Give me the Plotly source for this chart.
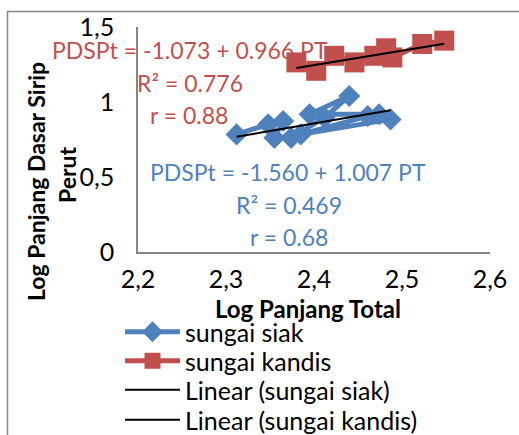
import plotly.graph_objects as go

# ---- data ----
siak_x = [2.312, 2.348, 2.365, 2.355, 2.374, 2.412, 2.440, 2.395, 2.474, 2.461, 2.385, 2.487]
siak_y = [0.784, 0.851, 0.873, 0.761, 0.761, 0.896, 1.040, 0.918, 0.918, 0.906, 0.784, 0.884]

kandis_x = [2.380, 2.4025, 2.423, 2.446, 2.4685, 2.482, 2.489, 2.523, 2.548]
kandis_y = [1.264, 1.208, 1.308, 1.264, 1.308, 1.358, 1.297, 1.387, 1.409]

siak_a, siak_b = -1.560, 1.007
kandis_a, kandis_b = -1.073, 0.966

siak_lines = ["PDSPt = -1.560 + 1.007 PT", "R² = 0.469", "r = 0.68"]
kandis_lines = ["PDSPt = -1.073 + 0.966 PT", "R² = 0.776", "r = 0.88"]

x_ticks = [2.2, 2.3, 2.4, 2.5, 2.6]
x_tick_text = ["2,2", "2,3", "2,4", "2,5", "2,6"]
y_ticks = [0, 0.5, 1, 1.5]
y_tick_text = ["0", "0,5", "1", "1,5"]

BLUE = "#4F81BD"
RED = "#C0504D"
GRAY = "#868686"
FONT = "Lato"

W, H = 519, 435
L, R, T, B = 138, 29, 27, 183
PW, PH = W - L - R, H - T - B


def px2paper_x(px):
    return (px - L) / PW


def px2paper_y(py):
    return (H - B - py) / PH


fig = go.Figure()

fig.add_trace(go.Scatter(
    x=siak_x, y=siak_y, mode="lines+markers", name="sungai siak",
    line=dict(color=BLUE, width=5),
    marker=dict(symbol="diamond", size=17, color=BLUE),
    cliponaxis=False, legend="legend",
))
fig.add_trace(go.Scatter(
    x=kandis_x, y=kandis_y, mode="lines+markers", name="sungai kandis",
    line=dict(color=RED, width=5),
    marker=dict(symbol="square", size=20, color=RED),
    cliponaxis=False, legend="legend2",
))

sx = [min(siak_x), max(siak_x)]
kx = [min(kandis_x), max(kandis_x)]
fig.add_trace(go.Scatter(
    x=sx, y=[siak_a + siak_b * v for v in sx], mode="lines",
    name="Linear (sungai siak)", line=dict(color="black", width=2),
    cliponaxis=False, legend="legend3",
))
fig.add_trace(go.Scatter(
    x=kx, y=[kandis_a + kandis_b * v for v in kx], mode="lines",
    name="Linear (sungai kandis)", line=dict(color="black", width=2),
    cliponaxis=False, legend="legend4",
))

annotations = []
# red equation block
for txt, cx, cy in zip(kandis_lines, [190, 190, 189], [50, 83, 115]):
    annotations.append(dict(text=txt, xref="paper", yref="paper",
                            x=px2paper_x(cx), y=px2paper_y(cy),
                            xanchor="center", yanchor="middle", showarrow=False,
                            font=dict(family=FONT, size=23, color=RED)))
# blue equation block
for txt, cx, cy in zip(siak_lines, [288, 289, 289], [172, 205, 237]):
    annotations.append(dict(text=txt, xref="paper", yref="paper",
                            x=px2paper_x(cx), y=px2paper_y(cy),
                            xanchor="center", yanchor="middle", showarrow=False,
                            font=dict(family=FONT, size=23, color=BLUE)))
# axis titles
annotations.append(dict(text="<b>Log Panjang Total</b>", xref="paper", yref="paper",
                        x=px2paper_x(308), y=px2paper_y(308), xanchor="center",
                        yanchor="middle", showarrow=False,
                        font=dict(family=FONT, size=24, color="black")))
annotations.append(dict(text="<b>Log Panjang Dasar Sirip</b>", xref="paper", yref="paper",
                        x=px2paper_x(36), y=px2paper_y(182), xanchor="center",
                        yanchor="middle", textangle=-90, showarrow=False,
                        font=dict(family=FONT, size=23, color="black")))
annotations.append(dict(text="<b>Perut</b>", xref="paper", yref="paper",
                        x=px2paper_x(67), y=px2paper_y(175), xanchor="center",
                        yanchor="middle", textangle=-90, showarrow=False,
                        font=dict(family=FONT, size=23, color="black")))

shapes = [dict(type="path", xref="paper", yref="paper",
               path="M {x0},{yb} L {x0},{yt} L {x1},{yt}".format(
                   x0=px2paper_x(7.5), yb=px2paper_y(440), yt=px2paper_y(11.5),
                   x1=px2paper_x(520)),
               line=dict(color=GRAY, width=1.5))]


def legend_at(row_center_py):
    return dict(x=px2paper_x(120), y=px2paper_y(row_center_py), xanchor="left",
                yanchor="middle", font=dict(family=FONT, size=25, color="black"),
                bgcolor="rgba(0,0,0,0)", itemwidth=55, borderwidth=0)


fig.update_layout(
    width=W, height=H,
    margin=dict(l=L, r=R, t=T, b=B, autoexpand=False),
    paper_bgcolor="white", plot_bgcolor="white",
    font=dict(family=FONT, size=23, color="black"),
    showlegend=True,
    legend=legend_at(332),
    legend2=legend_at(361),
    legend3=legend_at(390),
    legend4=legend_at(420),
    annotations=annotations,
    shapes=shapes,
    xaxis=dict(range=[2.2, 2.6], tickvals=x_ticks, ticktext=x_tick_text,
               showgrid=False, zeroline=False, showline=True, linecolor=GRAY,
               linewidth=1.5, ticks="outside", ticklen=4, tickcolor="rgba(0,0,0,0)",
               tickfont=dict(family=FONT, size=25)),
    yaxis=dict(range=[0, 1.5], tickvals=y_ticks, ticktext=y_tick_text,
               showgrid=False, zeroline=False, showline=True, linecolor=GRAY,
               linewidth=1.5, ticks="outside", ticklen=17, tickcolor="rgba(0,0,0,0)",
               tickfont=dict(family=FONT, size=25)),
)

fig.write_html("out.html", config={"displayModeBar": False},
               post_script="document.body.style.margin='0';")
